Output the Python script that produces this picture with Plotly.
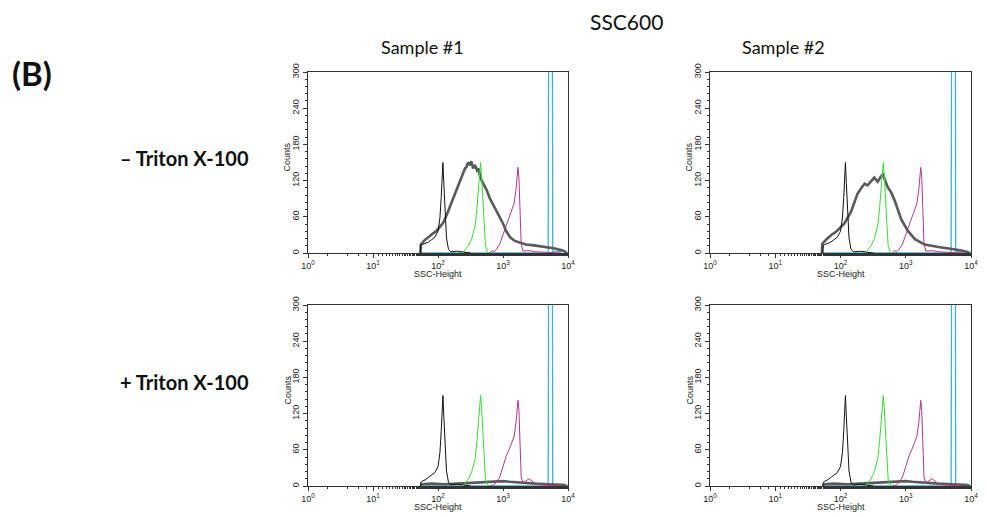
import plotly.graph_objects as go

# ---------------- data (SSC-Height values, counts) ----------------
black_x = [53.7, 54.3, 57.5, 63.1, 70.8, 79.4, 89.1, 100, 107, 112, 116, 119, 123, 129, 135, 145, 158, 200, 251, 316]
black_top = [0, 13, 14, 16, 18, 22, 26, 36, 58, 92, 130, 150, 115, 65, 25, 6, 2, 3, 2, 0]
black_bot = [0, 6, 8, 10, 14, 18, 22, 32, 55, 90, 130, 150, 115, 65, 25, 6, 2, 3, 2, 0]

green_x = [240, 263, 295, 331, 372, 398, 427, 452, 468, 490, 513, 537, 575, 631]
green_y = [0, 5, 12, 24, 45, 75, 115, 150, 130, 90, 45, 12, 2, 0]

magenta_x = [631, 676, 724, 794, 891, 1000, 1122, 1259, 1349, 1479, 1585, 1698, 1758, 1820, 1905, 2042, 2512, 2818, 3162, 5012, 7943]
magenta_top = [0, 4, 2, 6, 15, 30, 48, 62, 70, 82, 105, 142, 125, 70, 15, 3, 4, 3, 2, 1, 0]
magenta_bot = [0, 1, 2, 6, 15, 32, 50, 62, 70, 82, 105, 142, 125, 70, 15, 5, 12, 8, 3, 1, 0]

cyan_x = [53.7, 4955, 5012, 5070, 5700, 5760, 5820, 6310, 8913, 10000]
cyan_y = [0, 0, 220, 700, 700, 76, 3, 2, 3, 0]

gray1_x = [53.7, 54.3, 58.9, 63.1, 67.6, 75.9, 85.1, 95.5, 107.2, 120.2, 134.9, 151.4, 169.8, 195.0, 218.8,
           245.5, 260, 275.4, 290, 309.0, 325, 346.7, 370, 398.1, 420, 446.7, 501.2, 562.3, 631.0, 707.9,
           794.3, 891.3, 1000, 1122, 1288, 1514, 1820, 2239, 2818, 3311, 4169, 5012, 6026, 7079, 8511, 9550]
gray1_y = [0, 14, 18, 22, 24, 29, 33, 37, 43, 50, 62, 76, 90, 104, 120,
           133, 140, 143, 150, 146, 152, 140, 146, 137, 140, 125, 115, 104, 90, 80,
           70, 58, 49, 36, 26, 20, 17, 14, 13, 12, 10, 9, 8, 6, 4, 0]

gray2_x = [51.9, 52.5, 60, 70.8, 89.1, 114.8, 144.5, 182.0, 210, 234.4, 260, 295.1, 330, 371.5, 410,
           446.7, 480, 524.8, 600, 676.1, 851.1, 1072, 1380, 1950, 3162, 5012, 7244, 9550]
gray2_y = [0, 15, 22, 29, 37, 49, 68, 98, 108, 115, 112, 120, 125, 118, 126,
           130, 122, 110, 100, 87, 56, 37, 23, 14, 10, 7, 4, 0]

grayb_x = [53.7, 56.2, 79.4, 125.9, 199.5, 316.2, 501.2, 794.3, 1000, 1259, 1585, 1995, 3162, 5012, 7943, 9550]
grayb_y = [0, 3, 4, 3, 4, 5, 6, 7, 8, 7, 6, 5, 4, 3, 2, 0]

x_tickvals = [1, 10, 100, 1000, 10000]
x_ticktext = ["10<sup>0</sup>", "10<sup>1</sup>", "10<sup>2</sup>", "10<sup>3</sup>", "10<sup>4</sup>"]
y_tickvals = [0, 60, 120, 180, 240, 300]

col_titles = ["Sample #1", "Sample #2"]
row_titles = ["– Triton X-100", "+ Triton X-100"]

# ---------------- layout geometry (screen pixels; page body has an 8px margin) ----------------
SW, SH, OFF = 987, 517, 8
FW, FH = SW - OFF, SH - OFF

def fx(p):
    return (p - OFF) / FW

def fy(p):
    return 1 - (p - OFF) / FH

def px_x(a, b):
    return [fx(a), fx(b)]

def px_y(top, bottom):
    return [fy(bottom), fy(top)]

panels = [
    dict(xd=px_x(308, 568), yd=px_y(72, 253), gray=(gray1_x, gray1_y), black=black_top, mag=magenta_top),
    dict(xd=px_x(710, 971), yd=px_y(72, 253), gray=(gray2_x, gray2_y), black=black_top, mag=magenta_top),
    dict(xd=px_x(308, 568), yd=px_y(305, 486), gray=(grayb_x, grayb_y), black=black_bot, mag=magenta_bot),
    dict(xd=px_x(710, 971), yd=px_y(305, 486), gray=(grayb_x, grayb_y), black=black_bot, mag=magenta_bot),
]

fig = go.Figure()
tickfont = dict(family="Liberation Sans, Arial", size=9, color="#222")
annotations = []

for i, p in enumerate(panels, start=1):
    xa = "x" if i == 1 else f"x{i}"
    ya = "y" if i == 1 else f"y{i}"
    gx, gy = p["gray"]
    traces = [
        (cyan_x, cyan_y, "#3fb0d2", 1.3),
        (gx, gy, "#5a5a5a", 2.6),
        (black_x, p["black"], "#111111", 1.0),
        (green_x, green_y, "#33dd33", 1.0),
        (magenta_x, p["mag"], "#b0378f", 1.0),
    ]
    for tx, ty, c, w in traces:
        fig.add_trace(go.Scatter(x=tx, y=ty, mode="lines", line=dict(color=c, width=w),
                                 xaxis=xa, yaxis=ya, showlegend=False, hoverinfo="skip"))
    xkey = "xaxis" if i == 1 else f"xaxis{i}"
    ykey = "yaxis" if i == 1 else f"yaxis{i}"
    fig.layout[xkey] = dict(
        domain=p["xd"], anchor=ya, type="log", range=[0, 4], automargin=False,
        tickvals=x_tickvals, ticktext=x_ticktext, ticks="outside", ticklen=4,
        tickcolor="#333", tickfont=tickfont, showline=True, linecolor="#333", linewidth=1,
        mirror=True, showgrid=False, zeroline=False,
        minor=dict(ticks="outside", ticklen=2, tickcolor="#333", showgrid=False),
    )
    fig.layout[ykey] = dict(
        domain=p["yd"], anchor=xa, range=[0, 300], tickvals=y_tickvals, automargin=False,
        ticks="outside", ticklen=4, tickcolor="#333", tickfont=tickfont, tickangle=-90,
        showline=True, linecolor="#333", linewidth=1, mirror=True, showgrid=False,
        zeroline=False, minor=dict(ticks="outside", ticklen=2, dtick=12, tickcolor="#333", showgrid=False),
    )
    xc = (p["xd"][0] + p["xd"][1]) / 2
    annotations.append(dict(text="SSC-Height", xref="paper", yref="paper", x=xc,
                            y=p["yd"][0] - 21 / FH, showarrow=False,
                            font=dict(family="Liberation Sans, Arial", size=9, color="#222"),
                            xanchor="center", yanchor="middle"))
    annotations.append(dict(text="Counts", xref="paper", yref="paper", x=p["xd"][0] - 21 / FW,
                            y=(p["yd"][0] + p["yd"][1]) / 2 + 5 / FH, showarrow=False, textangle=-90,
                            font=dict(family="Liberation Sans, Arial", size=9, color="#222"),
                            xanchor="center", yanchor="middle"))

annotations.append(dict(text="SSC600", xref="paper", yref="paper", x=fx(626), y=fy(22),
                        showarrow=False, font=dict(family="Lato", size=21, color="#111"),
                        xanchor="center", yanchor="middle"))
for t, xc in zip(col_titles, [422, 783]):
    annotations.append(dict(text=t, xref="paper", yref="paper", x=fx(xc), y=fy(47),
                            showarrow=False, font=dict(family="Lato", size=18, color="#111"),
                            xanchor="center", yanchor="middle"))
annotations.append(dict(text="<b>(B)</b>", xref="paper", yref="paper", x=fx(10), y=fy(73),
                        showarrow=False, font=dict(family="Lato", size=33, color="#111"),
                        xanchor="left", yanchor="middle"))
for t, yc in zip(row_titles, [158, 382]):
    annotations.append(dict(text=f"<b>{t}</b>", xref="paper", yref="paper", x=fx(251), y=fy(yc),
                            showarrow=False, font=dict(family="Lato", size=20, color="#111"),
                            xanchor="right", yanchor="middle"))

fig.update_layout(width=FW, height=FH, margin=dict(l=0, r=0, t=0, b=0, autoexpand=False),
                  paper_bgcolor="white", plot_bgcolor="white", annotations=annotations,
                  showlegend=False)

fig.write_html("out.html")
